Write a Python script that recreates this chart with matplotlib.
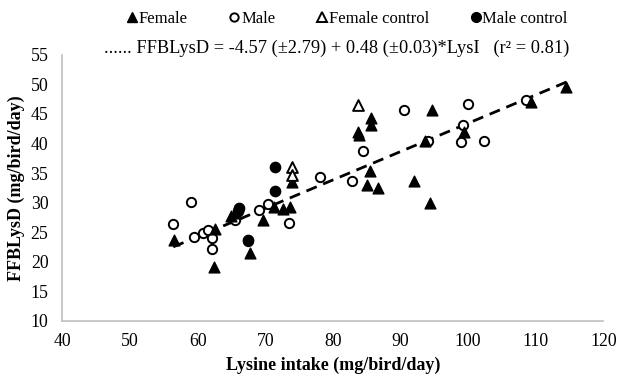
import matplotlib
matplotlib.use("Agg")
import matplotlib.pyplot as plt
from matplotlib.lines import Line2D
import numpy as np

plt.rcParams['font.family'] = ['Liberation Serif', 'DejaVu Serif']

female_x = [56.5, 62.6, 62.4, 65.0, 65.7, 67.7, 69.6, 71.3, 72.6, 73.6, 73.9,
            83.7, 83.8, 85.6, 85.7, 85.5, 85.1, 86.6, 92.0, 94.4, 94.7, 93.6,
            99.4, 109.3, 114.4]
female_y = [23.6, 25.5, 19.1, 27.7, 28.2, 21.5, 27.1, 29.2, 28.9, 29.2, 33.4,
            42.0, 41.4, 44.3, 43.1, 35.3, 32.9, 32.5, 33.6, 29.9, 45.6, 40.4,
            42.0, 47.1, 49.6]

male_x = [56.3, 59.0, 59.4, 60.8, 61.6, 62.2, 62.1, 65.6, 67.4, 69.1, 70.4,
          73.5, 78.1, 82.8, 84.4, 90.5, 94.0, 99.3, 99.0, 100.0, 102.3, 108.5]
male_y = [26.3, 30.1, 24.2, 24.9, 25.4, 24.0, 22.2, 27.0, 23.5, 28.8, 29.7,
          26.6, 34.3, 33.6, 38.8, 45.7, 40.5, 43.2, 40.2, 46.7, 40.5, 47.4]

fctrl_x = [73.9, 73.9, 83.7]
fctrl_y = [36.0, 34.7, 46.6]

mctrl_x = [71.5, 71.5, 66.1, 66.0, 67.4]
mctrl_y = [36.0, 32.0, 29.1, 28.6, 23.6]

intercept = -4.57
slope = 0.48
fit_range = [56.4, 114.7]

x_ticks = [40, 50, 60, 70, 80, 90, 100, 110, 120]
y_ticks = [10, 15, 20, 25, 30, 35, 40, 45, 50, 55]

fig = plt.figure(figsize=(6.17, 3.76), dpi=100)
ax = fig.add_axes([0.101, 0.147, 0.877, 0.707])

fx = np.array(fit_range)
ax.plot(fx, intercept + slope * fx, color='black', lw=2, ls=(0, (4, 2.5)), zorder=1)

ax.scatter(male_x, male_y, marker='o', s=45, facecolors='white', edgecolors='black', linewidths=1.4, zorder=3)
ax.scatter(female_x, female_y, marker='^', s=60, color='black', zorder=4)
ax.scatter(fctrl_x, fctrl_y, marker='^', s=60, facecolors='white', edgecolors='black', linewidths=1.4, zorder=4)
ax.scatter(mctrl_x, mctrl_y, marker='o', s=55, color='black', zorder=4)

ax.set_xlim(40, 120)
ax.set_ylim(10, 55)
ax.set_xticks(x_ticks)
ax.set_yticks(y_ticks)
ax.tick_params(length=0, labelsize=12.8)
ax.tick_params(axis='x', pad=9)
ax.tick_params(axis='y', pad=10)
for s in ['top', 'right']:
    ax.spines[s].set_visible(False)
for s in ['left', 'bottom']:
    ax.spines[s].set_color('#BFBFBF')
    ax.spines[s].set_linewidth(1.2)

ax.set_xlabel('Lysine intake (mg/bird/day)', fontsize=13, fontweight='bold', labelpad=5)
ax.set_ylabel('FFBLysD (mg/bird/day)', fontsize=13, fontweight='bold', labelpad=4)

handles = [
    Line2D([], [], marker='^', ls='', color='black', markersize=7),
    Line2D([], [], marker='o', ls='', markerfacecolor='white', markeredgecolor='black', markeredgewidth=1.4, markersize=6),
    Line2D([], [], marker='^', ls='', markerfacecolor='white', markeredgecolor='black', markeredgewidth=1.4, markersize=7),
    Line2D([], [], marker='o', ls='', color='black', markersize=7),
]
labels = ['Female', 'Male', 'Female control', 'Male control']
fig.legend(handles, labels, ncol=4, loc='center', bbox_to_anchor=(0.563, 0.949),
           frameon=False, fontsize=12, handlelength=0.6, handletextpad=0.1,
           columnspacing=2.5, borderaxespad=0)

fig.text(0.5454, 0.872, '...... FFBLysD = -4.57 (\u00b12.79) + 0.48 (\u00b10.03)*LysI   (r\u00b2 = 0.81)',
         ha='center', va='center', fontsize=13.2)

fig.savefig('out.png', dpi=100)
